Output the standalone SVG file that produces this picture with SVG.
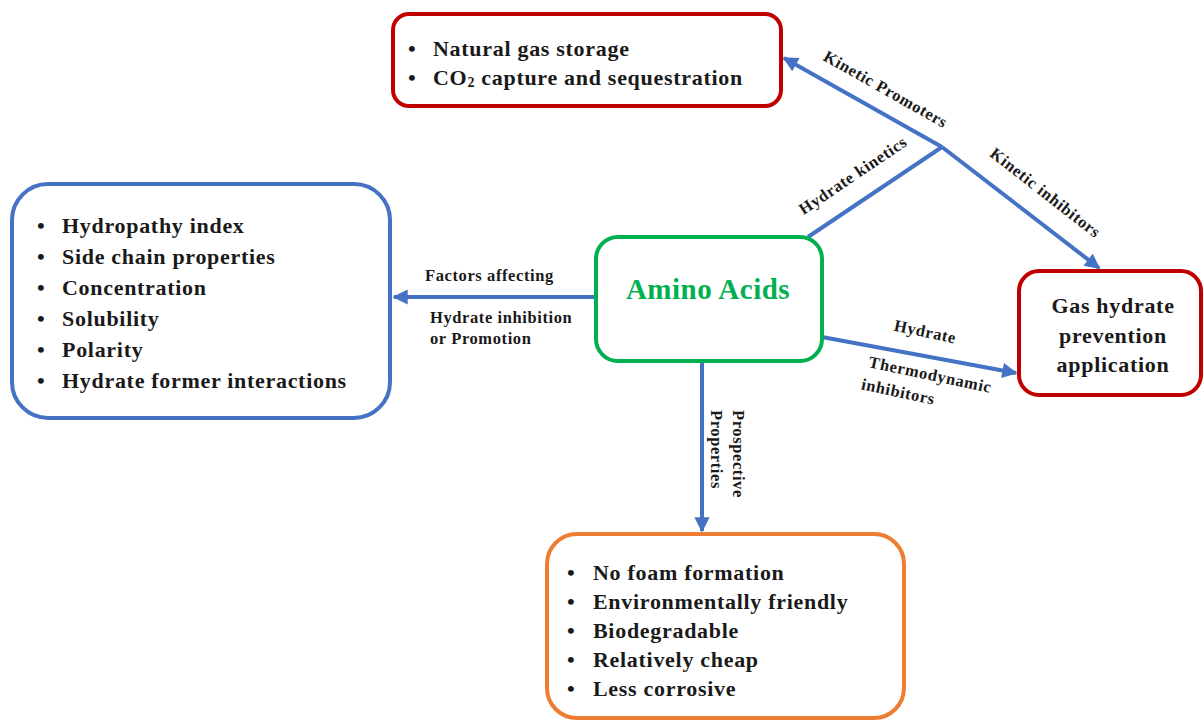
<svg xmlns="http://www.w3.org/2000/svg" width="1203" height="721" viewBox="0 0 1203 721">
<style>
.box{fill:#fff;stroke-width:4}
.t{font-family:"Liberation Serif","Times New Roman",serif;font-weight:bold;fill:#1a1a1a}
.li{font-size:22px;letter-spacing:0.7px}
.lb{font-size:16.5px;letter-spacing:0.6px}
.c{fill:none;stroke:#4472C4;stroke-width:4}
</style>
<defs>
<marker id="ah" viewBox="0 0 10 10" refX="9" refY="5" markerWidth="4.2" markerHeight="3.8" orient="auto" markerUnits="strokeWidth">
<path d="M0,0 L10,5 L0,10 z" fill="#4472C4"/>
</marker>
</defs>
<rect width="1203" height="721" fill="#fff"/>
<g id="connectors">
<line class="c" x1="595" y1="297" x2="394" y2="297" marker-end="url(#ah)"/>
<polyline class="c" points="808,237 942,147"/>
<line class="c" x1="942" y1="147" x2="784" y2="58" marker-end="url(#ah)"/>
<line class="c" x1="942" y1="147" x2="1099" y2="268" marker-end="url(#ah)"/>
<line class="c" x1="822" y1="337" x2="1016" y2="373" marker-end="url(#ah)"/>
<line class="c" x1="702" y1="362" x2="702" y2="531" marker-end="url(#ah)"/>
</g>
<g id="labels" class="t lb">
<text transform="translate(883,94) rotate(29.5)" text-anchor="middle">Kinetic Promoters</text>
<text transform="translate(1042,197) rotate(38)" text-anchor="middle">Kinetic inhibitors</text>
<text transform="translate(856,180) rotate(-34)" text-anchor="middle">Hydrate kinetics</text>
<text transform="translate(924,337) rotate(12)" text-anchor="middle">Hydrate</text>
<text transform="translate(929,380) rotate(12)" text-anchor="middle">Thermodynamic</text>
<text transform="translate(897,397) rotate(12)" text-anchor="middle">inhibitors</text>
<text x="425" y="281">Factors affecting</text>
<text x="430" y="323">Hydrate inhibition</text>
<text x="430" y="344">or Promotion</text>
<text transform="translate(733,410) rotate(90)">Prospective</text>
<text transform="translate(711,410) rotate(90)">Properties</text>
</g>
<g id="top-box">
<rect class="box" x="393" y="14" width="388" height="92" rx="16" stroke="#C00000"/>
<g class="t li">
<text x="408" y="56">•</text><text x="433" y="56">Natural gas storage</text>
<text x="408" y="85">•</text><text x="433" y="85">CO<tspan font-size="14" dy="2">2</tspan><tspan dy="-2"> capture and sequestration</tspan></text>
</g>
</g>
<g id="left-box">
<rect class="box" x="12" y="184" width="378" height="234" rx="36" stroke="#4472C4"/>
<g class="t li">
<text x="37" y="233">•</text><text x="62" y="233">Hydropathy index</text>
<text x="37" y="264">•</text><text x="62" y="264">Side chain properties</text>
<text x="37" y="295">•</text><text x="62" y="295">Concentration</text>
<text x="37" y="326">•</text><text x="62" y="326">Solubility</text>
<text x="37" y="357">•</text><text x="62" y="357">Polarity</text>
<text x="37" y="388">•</text><text x="62" y="388">Hydrate former interactions</text>
</g>
</g>
<g id="amino-acids">
<rect class="box" x="596" y="237" width="226" height="124" rx="22" stroke="#00B050"/>
<text class="t" x="708" y="299" font-size="29" letter-spacing="0.5" text-anchor="middle" style="fill:#00B050">Amino Acids</text>
</g>
<g id="right-box">
<rect class="box" x="1019" y="271" width="182" height="124" rx="20" stroke="#C00000"/>
<g class="t li" text-anchor="middle">
<text x="1113" y="313">Gas hydrate</text>
<text x="1113" y="343">prevention</text>
<text x="1113" y="372">application</text>
</g>
</g>
<g id="bottom-box">
<rect class="box" x="547" y="534" width="357" height="184" rx="30" stroke="#ED7D31"/>
<g class="t li">
<text x="567" y="580">•</text><text x="593" y="580">No foam formation</text>
<text x="567" y="609">•</text><text x="593" y="609">Environmentally friendly</text>
<text x="567" y="638">•</text><text x="593" y="638">Biodegradable</text>
<text x="567" y="667">•</text><text x="593" y="667">Relatively cheap</text>
<text x="567" y="696">•</text><text x="593" y="696">Less corrosive</text>
</g>
</g>
</svg>
